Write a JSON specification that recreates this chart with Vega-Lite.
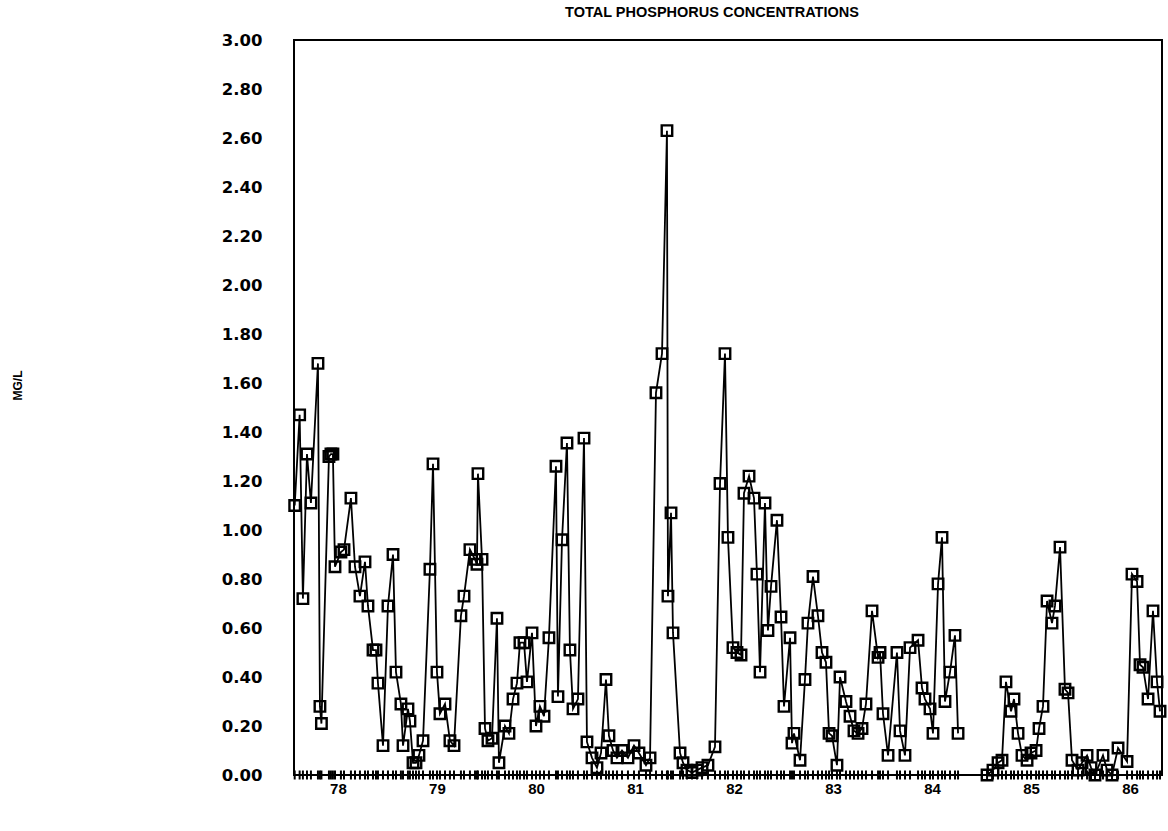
{
  "$schema": "https://vega.github.io/schema/vega-lite/v6.json",
  "width": 868,
  "height": 735,
  "autosize": {"type": "none"},
  "padding": {"left": 294, "top": 40, "right": 6, "bottom": 56},
  "background": "white",
  "config": {"view": {"stroke": "black", "strokeWidth": 2}, "font": "Liberation Sans"},
  "title": {"text": "TOTAL PHOSPHORUS CONCENTRATIONS", "fontSize": 14.5, "fontWeight": "bold", "font": "Liberation Sans", "offset": 12, "dx": -16, "color": "black"},
  "data": {"values": [
    {"t": 77.563, "v": 1.10, "seg": 1}, {"t": 77.613, "v": 1.47, "seg": 1}, {"t": 77.646, "v": 0.72, "seg": 1},
    {"t": 77.687, "v": 1.31, "seg": 1}, {"t": 77.727, "v": 1.11, "seg": 1}, {"t": 77.798, "v": 1.68, "seg": 1},
    {"t": 77.818, "v": 0.28, "seg": 1}, {"t": 77.833, "v": 0.21, "seg": 1}, {"t": 77.909, "v": 1.30, "seg": 1},
    {"t": 77.929, "v": 1.31, "seg": 1}, {"t": 77.949, "v": 1.31, "seg": 1}, {"t": 77.970, "v": 0.85, "seg": 1},
    {"t": 78.030, "v": 0.91, "seg": 1}, {"t": 78.061, "v": 0.92, "seg": 1}, {"t": 78.131, "v": 1.13, "seg": 1},
    {"t": 78.172, "v": 0.85, "seg": 1}, {"t": 78.222, "v": 0.73, "seg": 1}, {"t": 78.273, "v": 0.87, "seg": 1},
    {"t": 78.303, "v": 0.69, "seg": 1}, {"t": 78.354, "v": 0.51, "seg": 1}, {"t": 78.384, "v": 0.51, "seg": 1},
    {"t": 78.404, "v": 0.375, "seg": 1}, {"t": 78.455, "v": 0.12, "seg": 1}, {"t": 78.505, "v": 0.69, "seg": 1},
    {"t": 78.556, "v": 0.90, "seg": 1}, {"t": 78.586, "v": 0.42, "seg": 1}, {"t": 78.636, "v": 0.29, "seg": 1},
    {"t": 78.657, "v": 0.12, "seg": 1}, {"t": 78.707, "v": 0.27, "seg": 1}, {"t": 78.727, "v": 0.22, "seg": 1},
    {"t": 78.758, "v": 0.05, "seg": 1}, {"t": 78.788, "v": 0.05, "seg": 1}, {"t": 78.818, "v": 0.08, "seg": 1},
    {"t": 78.859, "v": 0.14, "seg": 1}, {"t": 78.929, "v": 0.84, "seg": 1}, {"t": 78.960, "v": 1.27, "seg": 1},
    {"t": 79.000, "v": 0.42, "seg": 1}, {"t": 79.030, "v": 0.25, "seg": 1}, {"t": 79.081, "v": 0.29, "seg": 1},
    {"t": 79.131, "v": 0.14, "seg": 1}, {"t": 79.172, "v": 0.12, "seg": 1}, {"t": 79.242, "v": 0.65, "seg": 1},
    {"t": 79.273, "v": 0.73, "seg": 1}, {"t": 79.333, "v": 0.92, "seg": 1}, {"t": 79.384, "v": 0.88, "seg": 1},
    {"t": 79.404, "v": 0.86, "seg": 1}, {"t": 79.414, "v": 1.23, "seg": 1}, {"t": 79.455, "v": 0.88, "seg": 1},
    {"t": 79.485, "v": 0.19, "seg": 1}, {"t": 79.515, "v": 0.14, "seg": 1}, {"t": 79.556, "v": 0.15, "seg": 1},
    {"t": 79.606, "v": 0.64, "seg": 1}, {"t": 79.626, "v": 0.05, "seg": 1}, {"t": 79.687, "v": 0.20, "seg": 1},
    {"t": 79.727, "v": 0.17, "seg": 1}, {"t": 79.768, "v": 0.31, "seg": 1}, {"t": 79.808, "v": 0.375, "seg": 1},
    {"t": 79.838, "v": 0.54, "seg": 1}, {"t": 79.879, "v": 0.54, "seg": 1}, {"t": 79.909, "v": 0.38, "seg": 1},
    {"t": 79.960, "v": 0.58, "seg": 1}, {"t": 80.000, "v": 0.20, "seg": 1}, {"t": 80.040, "v": 0.28, "seg": 1},
    {"t": 80.081, "v": 0.24, "seg": 1}, {"t": 80.131, "v": 0.56, "seg": 1}, {"t": 80.202, "v": 1.26, "seg": 1},
    {"t": 80.222, "v": 0.32, "seg": 1}, {"t": 80.263, "v": 0.96, "seg": 1}, {"t": 80.313, "v": 1.355, "seg": 1},
    {"t": 80.343, "v": 0.51, "seg": 1}, {"t": 80.374, "v": 0.27, "seg": 1}, {"t": 80.424, "v": 0.31, "seg": 1},
    {"t": 80.485, "v": 1.375, "seg": 1}, {"t": 80.515, "v": 0.135, "seg": 1}, {"t": 80.566, "v": 0.07, "seg": 1},
    {"t": 80.616, "v": 0.03, "seg": 1}, {"t": 80.657, "v": 0.09, "seg": 1}, {"t": 80.707, "v": 0.39, "seg": 1},
    {"t": 80.737, "v": 0.16, "seg": 1}, {"t": 80.778, "v": 0.10, "seg": 1}, {"t": 80.818, "v": 0.07, "seg": 1},
    {"t": 80.869, "v": 0.10, "seg": 1}, {"t": 80.929, "v": 0.07, "seg": 1}, {"t": 80.990, "v": 0.12, "seg": 1},
    {"t": 81.040, "v": 0.09, "seg": 1}, {"t": 81.111, "v": 0.04, "seg": 1}, {"t": 81.152, "v": 0.07, "seg": 1},
    {"t": 81.212, "v": 1.56, "seg": 1}, {"t": 81.273, "v": 1.72, "seg": 1}, {"t": 81.323, "v": 2.63, "seg": 1},
    {"t": 81.333, "v": 0.73, "seg": 1}, {"t": 81.364, "v": 1.07, "seg": 1}, {"t": 81.384, "v": 0.58, "seg": 1},
    {"t": 81.455, "v": 0.09, "seg": 1}, {"t": 81.485, "v": 0.05, "seg": 1}, {"t": 81.525, "v": 0.02, "seg": 1},
    {"t": 81.576, "v": 0.01, "seg": 1}, {"t": 81.626, "v": 0.02, "seg": 1}, {"t": 81.677, "v": 0.03, "seg": 1},
    {"t": 81.737, "v": 0.04, "seg": 1}, {"t": 81.808, "v": 0.115, "seg": 1}, {"t": 81.859, "v": 1.19, "seg": 1},
    {"t": 81.909, "v": 1.72, "seg": 1}, {"t": 81.939, "v": 0.97, "seg": 1}, {"t": 81.990, "v": 0.52, "seg": 1},
    {"t": 82.030, "v": 0.50, "seg": 1}, {"t": 82.071, "v": 0.49, "seg": 1}, {"t": 82.101, "v": 1.15, "seg": 1},
    {"t": 82.152, "v": 1.22, "seg": 1}, {"t": 82.202, "v": 1.13, "seg": 1}, {"t": 82.232, "v": 0.82, "seg": 1},
    {"t": 82.263, "v": 0.42, "seg": 1}, {"t": 82.313, "v": 1.11, "seg": 1}, {"t": 82.343, "v": 0.59, "seg": 1},
    {"t": 82.374, "v": 0.77, "seg": 1}, {"t": 82.434, "v": 1.04, "seg": 1}, {"t": 82.475, "v": 0.645, "seg": 1},
    {"t": 82.505, "v": 0.28, "seg": 1}, {"t": 82.566, "v": 0.56, "seg": 1}, {"t": 82.586, "v": 0.13, "seg": 1},
    {"t": 82.606, "v": 0.17, "seg": 1}, {"t": 82.667, "v": 0.06, "seg": 1}, {"t": 82.717, "v": 0.39, "seg": 1},
    {"t": 82.747, "v": 0.62, "seg": 1}, {"t": 82.798, "v": 0.81, "seg": 1}, {"t": 82.848, "v": 0.65, "seg": 1},
    {"t": 82.889, "v": 0.50, "seg": 1}, {"t": 82.929, "v": 0.46, "seg": 1}, {"t": 82.960, "v": 0.17, "seg": 1},
    {"t": 82.990, "v": 0.16, "seg": 1}, {"t": 83.040, "v": 0.04, "seg": 1}, {"t": 83.071, "v": 0.40, "seg": 1},
    {"t": 83.131, "v": 0.30, "seg": 1}, {"t": 83.172, "v": 0.24, "seg": 1}, {"t": 83.212, "v": 0.18, "seg": 1},
    {"t": 83.253, "v": 0.17, "seg": 1}, {"t": 83.293, "v": 0.19, "seg": 1}, {"t": 83.333, "v": 0.29, "seg": 1},
    {"t": 83.394, "v": 0.67, "seg": 1}, {"t": 83.455, "v": 0.48, "seg": 1}, {"t": 83.475, "v": 0.50, "seg": 1},
    {"t": 83.505, "v": 0.25, "seg": 1}, {"t": 83.556, "v": 0.08, "seg": 1}, {"t": 83.646, "v": 0.50, "seg": 1},
    {"t": 83.677, "v": 0.18, "seg": 1}, {"t": 83.727, "v": 0.08, "seg": 1}, {"t": 83.778, "v": 0.52, "seg": 1},
    {"t": 83.859, "v": 0.55, "seg": 1}, {"t": 83.899, "v": 0.355, "seg": 1}, {"t": 83.929, "v": 0.31, "seg": 1},
    {"t": 83.980, "v": 0.27, "seg": 1}, {"t": 84.010, "v": 0.17, "seg": 1}, {"t": 84.061, "v": 0.78, "seg": 1},
    {"t": 84.101, "v": 0.97, "seg": 1}, {"t": 84.131, "v": 0.30, "seg": 1}, {"t": 84.182, "v": 0.42, "seg": 1},
    {"t": 84.232, "v": 0.57, "seg": 1}, {"t": 84.263, "v": 0.17, "seg": 1},
    {"t": 84.556, "v": 0.00, "seg": 2}, {"t": 84.616, "v": 0.02, "seg": 2}, {"t": 84.667, "v": 0.05, "seg": 2},
    {"t": 84.707, "v": 0.06, "seg": 2}, {"t": 84.747, "v": 0.38, "seg": 2}, {"t": 84.798, "v": 0.26, "seg": 2},
    {"t": 84.828, "v": 0.31, "seg": 2}, {"t": 84.869, "v": 0.17, "seg": 2}, {"t": 84.909, "v": 0.08, "seg": 2},
    {"t": 84.960, "v": 0.06, "seg": 2}, {"t": 85.000, "v": 0.09, "seg": 2}, {"t": 85.051, "v": 0.10, "seg": 2},
    {"t": 85.081, "v": 0.19, "seg": 2}, {"t": 85.121, "v": 0.28, "seg": 2}, {"t": 85.162, "v": 0.71, "seg": 2},
    {"t": 85.212, "v": 0.62, "seg": 2}, {"t": 85.242, "v": 0.69, "seg": 2}, {"t": 85.293, "v": 0.93, "seg": 2},
    {"t": 85.343, "v": 0.35, "seg": 2}, {"t": 85.374, "v": 0.335, "seg": 2}, {"t": 85.414, "v": 0.06, "seg": 2},
    {"t": 85.475, "v": 0.02, "seg": 2}, {"t": 85.515, "v": 0.05, "seg": 2}, {"t": 85.566, "v": 0.08, "seg": 2},
    {"t": 85.606, "v": 0.03, "seg": 2}, {"t": 85.646, "v": 0.00, "seg": 2}, {"t": 85.727, "v": 0.08, "seg": 2},
    {"t": 85.768, "v": 0.02, "seg": 2}, {"t": 85.818, "v": 0.00, "seg": 2}, {"t": 85.879, "v": 0.11, "seg": 2},
    {"t": 85.970, "v": 0.055, "seg": 2}, {"t": 86.020, "v": 0.82, "seg": 2}, {"t": 86.071, "v": 0.79, "seg": 2},
    {"t": 86.101, "v": 0.45, "seg": 2}, {"t": 86.131, "v": 0.44, "seg": 2}, {"t": 86.182, "v": 0.31, "seg": 2},
    {"t": 86.232, "v": 0.67, "seg": 2}, {"t": 86.273, "v": 0.38, "seg": 2}, {"t": 86.303, "v": 0.26, "seg": 2}
  ]},
  "encoding": {
    "x": {
      "field": "t", "type": "quantitative",
      "scale": {"domain": [77.556, 86.323], "nice": false, "zero": false},
      "axis": {
        "values": [78, 79, 80, 81, 82, 83, 84, 85, 86], "format": "d", "title": null,
        "labelFont": "Liberation Sans", "labelFontSize": 15, "labelFontWeight": "bold", "labelColor": "black",
        "ticks": false, "domain": false, "grid": false, "labelPadding": 6
      }
    },
    "y": {
      "field": "v", "type": "quantitative",
      "scale": {"domain": [0, 3], "nice": false},
      "axis": {
        "values": [0, 0.2, 0.4, 0.6, 0.8, 1.0, 1.2, 1.4, 1.6, 1.8, 2.0, 2.2, 2.4, 2.6, 2.8, 3.0],
        "format": ".2f", "title": "MG/L",
        "labelFont": "DejaVu Sans", "labelFontSize": 16.5, "labelFontWeight": "bold", "labelColor": "black",
        "ticks": false, "domain": false, "grid": false, "labelPadding": 32,
        "titleFont": "Liberation Sans", "titleFontSize": 12, "titleFontWeight": "bold", "titleColor": "black",
        "titleX": -270, "titleY": 345
      }
    }
  },
  "layer": [
    {
      "mark": {"type": "tick", "color": "black", "thickness": 2, "size": 9, "opacity": 1},
      "encoding": {"y": {"datum": 0, "type": "quantitative"}}
    },
    {
      "mark": {"type": "line", "color": "black", "strokeWidth": 1.8},
      "encoding": {"detail": {"field": "seg"}}
    },
    {
      "mark": {"type": "point", "shape": "square", "filled": false, "size": 110, "stroke": "black", "strokeWidth": 2.4, "opacity": 1}
    }
  ]
}
